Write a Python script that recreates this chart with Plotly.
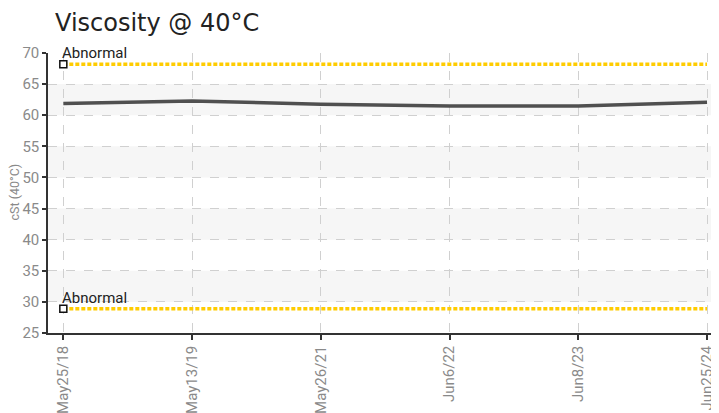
import plotly.graph_objects as go

dates = ["May25/18", "May13/19", "May26/21", "Jun6/22", "Jun8/23", "Jun25/24"]
viscosity = [61.9, 62.3, 61.75, 61.5, 61.5, 62.1]
abnormal_high = 68.2
abnormal_low = 28.9
band_ranges = [(60, 65), (50, 55), (40, 45), (30, 35)]

COND = "Roboto, Liberation Sans, sans-serif"

x = list(range(len(dates)))
fig = go.Figure()

for lim in (abnormal_high, abnormal_low):
    fig.add_trace(go.Scatter(
        x=[x[0], x[-1]], y=[lim, lim], mode="lines",
        line=dict(color="#FFCC00", width=3.5, dash="4px,2px"),
        hoverinfo="skip", showlegend=False))
    fig.add_trace(go.Scatter(
        x=[x[0]], y=[lim], mode="markers",
        marker=dict(symbol="square", size=7, color="white",
                    line=dict(color="#111", width=1.5)),
        hoverinfo="skip", showlegend=False))
    fig.add_annotation(x=x[0], y=lim, text="Abnormal", showarrow=False,
                       xanchor="left", yanchor="bottom", xshift=-3, yshift=0,
                       font=dict(family=COND, size=15, color="#222"))

fig.add_trace(go.Scatter(
    x=x, y=viscosity, mode="lines",
    line=dict(color="#505050", width=3.5),
    showlegend=False))

shapes = []
for lo, hi in band_ranges:
    shapes.append(dict(type="rect", xref="paper", yref="y", x0=0, x1=1, y0=lo, y1=hi,
                       fillcolor="#f6f6f6", line=dict(width=0), layer="below"))

W, H = 711, 405
PLOT_W = W - 40
fig.add_annotation(xref="paper", yref="paper", x=-34.5 / PLOT_W, y=0.5,
                   text="cSt (40°C)", textangle=-90, showarrow=False,
                   xanchor="center", yanchor="middle", borderpad=0,
                   font=dict(family=COND, size=12.5, color="#8a8a8a"))

fig.update_layout(
    width=W, height=H,
    margin=dict(l=40, r=0, t=45, b=80),
    paper_bgcolor="white", plot_bgcolor="white",
    shapes=shapes,
    title=dict(text="Viscosity @ 40°C", x=47/W, xanchor="left", xref="container",
               y=1-15/H, yanchor="middle", pad=dict(l=0, r=0, t=0, b=0),
               font=dict(family="DejaVu Sans, sans-serif", size=24, color="#222")),
    xaxis=dict(
        range=[-0.119, 5.093], tickmode="array", tickvals=x, ticktext=dates,
        tickangle=-90, showgrid=True, gridcolor="#d0d0d0", griddash="dash", gridwidth=1,
        showline=True, linecolor="#333", linewidth=1.5,
        ticks="outside", ticklen=5, tickcolor="#333", tickwidth=1.5,
        tickfont=dict(family=COND, size=15, color="#8a8a8a"),
        zeroline=False, fixedrange=True, automargin=False),
    yaxis=dict(
        range=[25, 70], dtick=5, tick0=25,
        showgrid=True, gridcolor="#d0d0d0", griddash="dash", gridwidth=1,
        showline=True, linecolor="#333", linewidth=1.5,
        ticks="outside", ticklen=4, tickcolor="#333", tickwidth=1.5,
        tickfont=dict(family=COND, size=15, color="#8a8a8a"),
        zeroline=False, fixedrange=True, automargin=False),
)

fig.write_html("out.html")
